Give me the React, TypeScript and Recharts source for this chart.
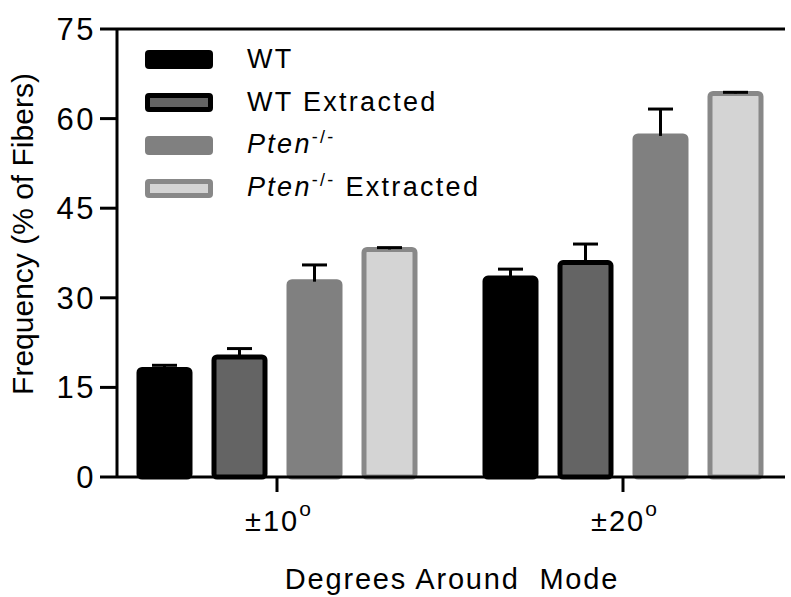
import React from "react"
import {
  BarChart,
  Bar,
  XAxis,
  YAxis,
  Legend,
  ReferenceLine,
} from "recharts"

const categories = ["±10", "±20"]
const wtValues = [18.0, 33.3]
const wtErrors = [0.7, 1.5]
const wtExtValues = [20.1, 35.9]
const wtExtErrors = [1.4, 3.1]
const ptenValues = [32.7, 57.1]
const ptenErrors = [2.8, 4.5]
const ptenExtValues = [38.1, 64.2]
const ptenExtErrors = [0.3, 0.2]
const yTicks = [0, 15, 30, 45, 60, 75]

const FONT = "'Liberation Sans', Arial, sans-serif"

type Series = {
  key: string
  label: string
  italic: boolean
  fill: string
  stroke: string
}

const series: Series[] = [
  { key: "wt", label: "WT", italic: false, fill: "#000000", stroke: "#000000" },
  { key: "wtExt", label: "WT Extracted", italic: false, fill: "#646464", stroke: "#000000" },
  { key: "pten", label: "Pten", italic: true, fill: "#808080", stroke: "#808080" },
  { key: "ptenExt", label: "Pten Extracted", italic: true, fill: "#d4d4d4", stroke: "#888888" },
]

const data = categories.map((cat, i) => ({
  cat,
  wt: wtValues[i],
  wtErr: wtErrors[i],
  wtExt: wtExtValues[i],
  wtExtErr: wtExtErrors[i],
  pten: ptenValues[i],
  ptenErr: ptenErrors[i],
  ptenExt: ptenExtValues[i],
  ptenExtErr: ptenExtErrors[i],
}))

// bar with an upward-only SEM whisker; pixel length comes from the bar's own scale
function makeBarShape(errKey: string) {
  return function BarShape(props: any) {
    const { x, y, width, height, fill, stroke, payload, value } = props
    const v = Array.isArray(value) ? value[1] - value[0] : value
    const pxPerUnit = v ? height / v : 0
    const errPx = (payload?.[errKey] ?? 0) * pxPerUnit
    const cx = x + width / 2
    const top = y - errPx
    return (
      <g>
        <rect
          x={x}
          y={y}
          width={width}
          height={height}
          rx={3}
          ry={3}
          fill={fill}
          stroke={stroke}
          strokeWidth={5}
          strokeLinejoin="round"
        />
        {errPx > 0.5 && <line x1={cx} y1={y} x2={cx} y2={top} stroke="#000" strokeWidth={3} />}
        <line x1={cx - 12.5} y1={top} x2={cx + 12.5} y2={top} stroke="#000" strokeWidth={3} />
      </g>
    )
  }
}

function XTick(props: any) {
  const { x, y, payload } = props
  return (
    <text x={x + 2} y={y + 37} textAnchor="middle" fontFamily={FONT} fontSize={29} fill="#000" letterSpacing={2}>
      {payload.value}
      <tspan fontSize={21} dy={-15}>o</tspan>
    </text>
  )
}

function YTick(props: any) {
  const { x, y, payload } = props
  return (
    <text x={x - 2} y={y + 11} textAnchor="end" fontFamily={FONT} fontSize={31} fill="#000" letterSpacing={2.5}>
      {payload.value}
    </text>
  )
}

function renderYLabel() {
  return (
    <text
      x={0}
      y={0}
      transform="translate(33 234) rotate(-90)"
      textAnchor="middle"
      fontFamily={FONT}
      fontSize={30}
      fill="#000"
    >
      Frequency (% of Fibers)
    </text>
  )
}

function renderXLabel() {
  return (
    <text x={452} y={589} textAnchor="middle" fontFamily={FONT} fontSize={29} fill="#000" letterSpacing={1.8}>
      Degrees Around{"\u00a0\u00a0"}Mode
    </text>
  )
}

function LegendSwatch({ s }: { s: Series }) {
  const bordered = s.stroke !== s.fill
  return (
    <div
      style={{
        width: bordered ? 58 : 68,
        height: bordered ? 9 : 19,
        background: s.fill,
        border: bordered ? `5px solid ${s.stroke}` : "none",
        borderRadius: 4,
        flexShrink: 0,
      }}
    />
  )
}

function LegendContent() {
  return (
    <div style={{ fontFamily: FONT, fontSize: 27, color: "#000", letterSpacing: 2.3 }}>
      {series.map((s) => (
        <div key={s.key} style={{ display: "flex", alignItems: "center", height: 43 }}>
          <LegendSwatch s={s} />
          <div style={{ marginLeft: 34, lineHeight: "43px", whiteSpace: "nowrap" }}>
            {s.italic ? (
              <>
                <i>Pten</i>
                <span style={{ fontSize: 18, position: "relative", top: -10 }}>-/-</span>
                {s.key === "ptenExt" ? " Extracted" : ""}
              </>
            ) : (
              s.label
            )}
          </div>
        </div>
      ))}
    </div>
  )
}

export default function App() {
  return (
    <div style={{ position: "absolute", left: 0, top: 0, background: "#fff" }}>
      <BarChart
        width={791}
        height={597}
        data={data}
        margin={{ top: 29, right: 6, left: 0, bottom: 0 }}
        barSize={51}
        barGap={24}
      >
        <XAxis
          dataKey="cat"
          height={120}
          padding={{ left: -13, right: -11 }}
          tick={<XTick />}
          tickSize={15}
          tickLine={{ stroke: "#000", strokeWidth: 3 }}
          axisLine={{ stroke: "#000", strokeWidth: 3 }}
          label={{ content: renderXLabel }}
        />
        <YAxis
          width={117}
          domain={[0, 75]}
          ticks={yTicks}
          interval={0}
          tick={<YTick />}
          tickSize={17}
          tickLine={{ stroke: "#000", strokeWidth: 3 }}
          axisLine={{ stroke: "#000", strokeWidth: 3 }}
          label={{ content: renderYLabel }}
        />
        <YAxis
          yAxisId="frame"
          orientation="right"
          width={0}
          tick={false}
          tickLine={false}
          axisLine={{ stroke: "#111", strokeWidth: 2 }}
        />
        <ReferenceLine y={75} stroke="#000" strokeWidth={3} />
        <Legend
          layout="horizontal"
          verticalAlign="middle"
          align="center"
          content={<LegendContent />}
          wrapperStyle={{ top: 38, left: 145, width: 380 }}
        />
        {series.map((s) => (
          <Bar
            key={s.key}
            dataKey={s.key}
            fill={s.fill}
            stroke={s.stroke}
            shape={makeBarShape(`${s.key}Err`)}
            isAnimationActive={false}
          />
        ))}
      </BarChart>
    </div>
  )
}
